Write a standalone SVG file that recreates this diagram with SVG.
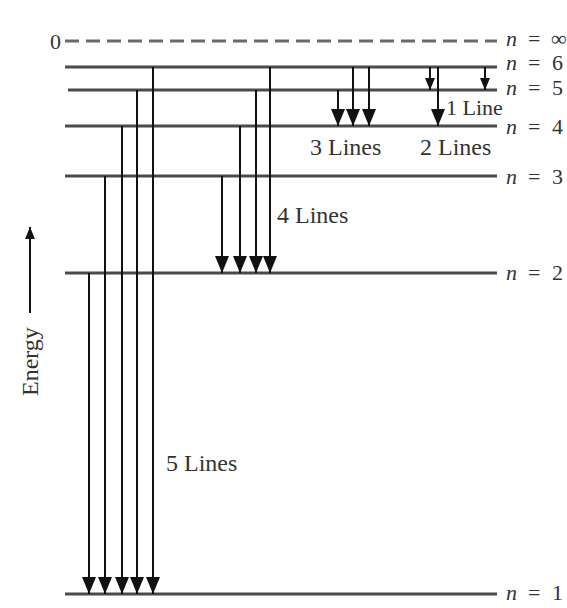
<svg xmlns="http://www.w3.org/2000/svg" width="567" height="608" viewBox="0 0 567 608">
<style>
.lvl{stroke:#4a4a4a;stroke-width:3;fill:none}
.inf{stroke:#6a6a6a;stroke-width:3;stroke-dasharray:14 7;fill:none}
.tr{stroke:#111;stroke-width:2;fill:none}
.lab{font-family:"Liberation Serif","Times New Roman",serif;font-size:22px;fill:#333}
.big{font-family:"Liberation Serif","Times New Roman",serif;font-size:24px;fill:#333}
.it{font-style:italic}
</style>
<defs>
<marker id="ah" markerUnits="userSpaceOnUse" markerWidth="17" markerHeight="14" refX="17" refY="7" orient="auto" viewBox="0 0 17 14">
<path d="M0,0 L17,7 L0,14 Z" fill="#111"/>
</marker>
<marker id="ahs" markerUnits="userSpaceOnUse" markerWidth="12" markerHeight="10" refX="12" refY="5" orient="auto" viewBox="0 0 12 10">
<path d="M0,0 L12,5 L0,10 Z" fill="#111"/>
</marker>
</defs>

<g id="levels">
<g id="level-inf"><line class="inf" x1="65" y1="41" x2="497" y2="41"/><text class="lab" x="50" y="49">0</text><text class="lab" x="506" y="46"><tspan class="it">n</tspan><tspan x="528">=</tspan><tspan x="551">∞</tspan></text></g>
<g id="level-6"><line class="lvl" x1="65" y1="67" x2="497" y2="67"/><text class="lab" x="506" y="70"><tspan class="it">n</tspan><tspan x="528">=</tspan><tspan x="552">6</tspan></text></g>
<g id="level-5"><line class="lvl" x1="68" y1="90" x2="497" y2="90"/><text class="lab" x="506" y="95"><tspan class="it">n</tspan><tspan x="528">=</tspan><tspan x="552">5</tspan></text></g>
<g id="level-4"><line class="lvl" x1="65" y1="126" x2="497" y2="126"/><text class="lab" x="506" y="134"><tspan class="it">n</tspan><tspan x="528">=</tspan><tspan x="552">4</tspan></text></g>
<g id="level-3"><line class="lvl" x1="65" y1="176" x2="497" y2="176"/><text class="lab" x="506" y="184"><tspan class="it">n</tspan><tspan x="528">=</tspan><tspan x="552">3</tspan></text></g>
<g id="level-2"><line class="lvl" x1="65" y1="273" x2="497" y2="273"/><text class="lab" x="506" y="280"><tspan class="it">n</tspan><tspan x="528">=</tspan><tspan x="552">2</tspan></text></g>
<g id="level-1"><line class="lvl" x1="65" y1="594" x2="497" y2="594"/><text class="lab" x="506" y="600"><tspan class="it">n</tspan><tspan x="528">=</tspan><tspan x="552">1</tspan></text></g>
</g>

<g id="connectors">
<line class="tr" x1="89" y1="273" x2="89" y2="594" marker-end="url(#ah)"/>
<line class="tr" x1="105" y1="176" x2="105" y2="594" marker-end="url(#ah)"/>
<line class="tr" x1="122" y1="126" x2="122" y2="594" marker-end="url(#ah)"/>
<line class="tr" x1="137" y1="90" x2="137" y2="594" marker-end="url(#ah)"/>
<line class="tr" x1="153" y1="67" x2="153" y2="594" marker-end="url(#ah)"/>
<line class="tr" x1="222" y1="176" x2="222" y2="273" marker-end="url(#ah)"/>
<line class="tr" x1="240" y1="126" x2="240" y2="273" marker-end="url(#ah)"/>
<line class="tr" x1="256" y1="90" x2="256" y2="273" marker-end="url(#ah)"/>
<line class="tr" x1="270" y1="67" x2="270" y2="273" marker-end="url(#ah)"/>
<line class="tr" x1="338" y1="90" x2="338" y2="126" marker-end="url(#ah)"/>
<line class="tr" x1="353" y1="67" x2="353" y2="126" marker-end="url(#ah)"/>
<line class="tr" x1="369" y1="67" x2="369" y2="126" marker-end="url(#ah)"/>
<line class="tr" x1="430" y1="67" x2="430" y2="90" marker-end="url(#ahs)"/>
<line class="tr" x1="438" y1="67" x2="438" y2="126" marker-end="url(#ah)"/>
<line class="tr" x1="485" y1="67" x2="485" y2="90" marker-end="url(#ahs)"/>
</g>

<g id="labels">
<text class="lab" x="446" y="115">1 Line</text>
<text class="big" x="310" y="155">3 Lines</text>
<text class="big" x="420" y="155">2 Lines</text>
<text class="big" x="277" y="223">4 Lines</text>
<text class="big" x="166" y="471">5 Lines</text>
</g>

<g id="energy">
<line class="tr" x1="30" y1="313" x2="30" y2="227" marker-end="url(#ahs)"/>
<text class="big" transform="translate(38,396) rotate(-90)">Energy</text>
</g>
</svg>
